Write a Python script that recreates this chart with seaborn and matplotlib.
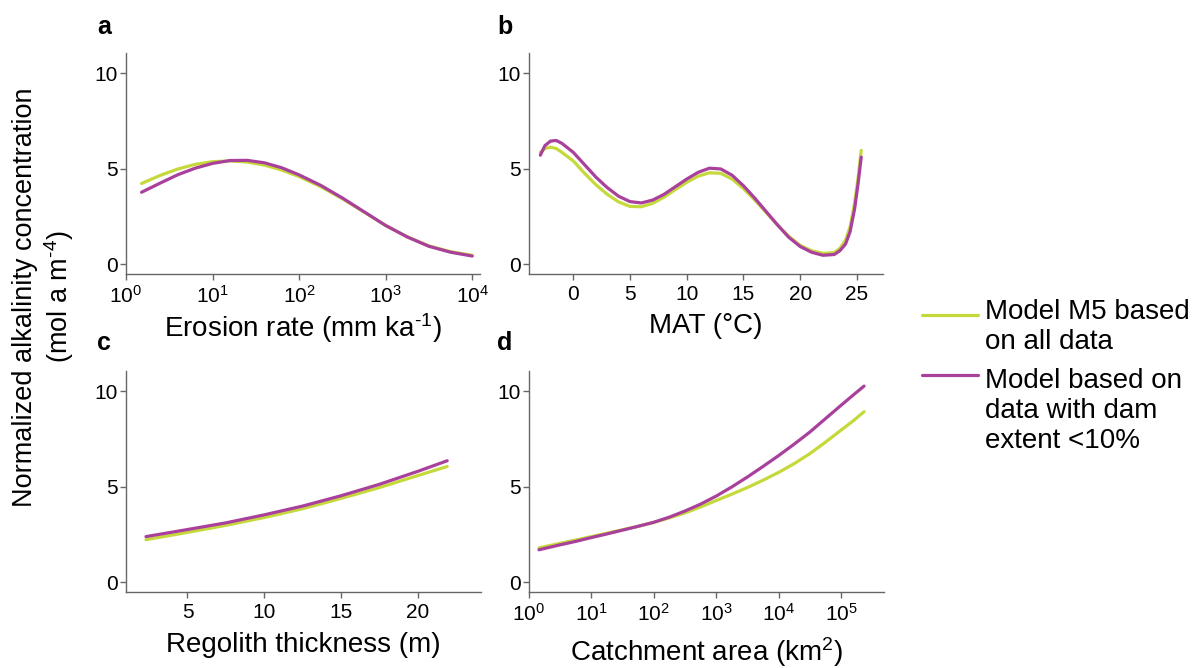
import numpy as np
import pandas as pd
import matplotlib
matplotlib.use("Agg")
import matplotlib.pyplot as plt
import seaborn as sns
from matplotlib.lines import Line2D

# ---------------- data ----------------
series_names = ["Model M5 based\non all data",
                "Model based on\ndata with dam\nextent <10%"]
colors = ["#c6d93b", "#a8409c"]

# panel a: erosion rate (log10 of mm/ka)
a_logx = [0.18, 0.4, 0.6, 0.8, 1.0, 1.2, 1.4, 1.6, 1.8, 2.0, 2.25, 2.5, 2.75,
          3.0, 3.25, 3.5, 3.75, 4.0]
a_all = [4.22, 4.65, 4.98, 5.22, 5.36, 5.40, 5.34, 5.18, 4.92, 4.58, 4.05, 3.42,
         2.72, 2.02, 1.42, 0.95, 0.65, 0.46]
a_dam = [3.76, 4.25, 4.68, 5.02, 5.27, 5.42, 5.43, 5.30, 5.04, 4.67, 4.12, 3.46,
         2.74, 2.02, 1.42, 0.93, 0.62, 0.42]

# panel b: MAT (°C)
b_x = [-2.9, -2.5, -2, -1.5, -1, 0, 1, 2, 3, 4, 5, 6, 7, 8, 9, 10, 11, 12, 13,
       14, 15, 16, 17, 18, 19, 20, 21, 22, 23, 23.5, 24, 24.4, 24.8, 25.1, 25.38]
b_all = [5.85, 6.05, 6.12, 6.05, 5.85, 5.40, 4.75, 4.15, 3.65, 3.25, 3.02, 3.00,
         3.18, 3.50, 3.90, 4.28, 4.60, 4.78, 4.75, 4.45, 3.95, 3.35, 2.70, 2.05,
         1.45, 0.98, 0.70, 0.56, 0.60, 0.82, 1.25, 1.95, 3.20, 4.50, 5.95]
b_dam = [5.70, 6.20, 6.44, 6.47, 6.32, 5.85, 5.20, 4.55, 4.00, 3.55, 3.27, 3.20,
         3.35, 3.65, 4.05, 4.45, 4.80, 5.02, 4.98, 4.65, 4.10, 3.45, 2.75, 2.05,
         1.40, 0.92, 0.62, 0.46, 0.50, 0.70, 1.05, 1.70, 2.90, 4.20, 5.60]

# panel c: regolith thickness (m)
c_x = [2.3, 5, 7.5, 10, 12.5, 15, 17.5, 20, 21.9]
c_all = [2.22, 2.60, 2.97, 3.38, 3.84, 4.38, 4.95, 5.58, 6.05]
c_dam = [2.38, 2.75, 3.10, 3.52, 3.98, 4.52, 5.12, 5.80, 6.35]

# panel d: catchment area (log10 of km2)
d_logx = [0.16, 0.5, 0.75, 1.0, 1.25, 1.5, 1.75, 2.0, 2.25, 2.5, 2.75, 3.0,
          3.25, 3.5, 3.75, 4.0, 4.25, 4.5, 4.75, 5.0, 5.2, 5.37]
d_all = [1.79, 2.03, 2.20, 2.38, 2.56, 2.74, 2.92, 3.12, 3.36, 3.62, 3.93, 4.27,
         4.60, 4.95, 5.33, 5.74, 6.20, 6.72, 7.32, 7.95, 8.45, 8.92]
d_dam = [1.69, 1.95, 2.13, 2.33, 2.52, 2.72, 2.92, 3.13, 3.40, 3.72, 4.08, 4.50,
         4.98, 5.50, 6.05, 6.62, 7.22, 7.85, 8.55, 9.25, 9.80, 10.26]

y_ticks = [0, 5, 10]
b_ticks = [0, 5, 10, 15, 20, 25]
c_ticks = [5, 10, 15, 20]
panel_letters = ["a", "b", "c", "d"]
x_labels = [r"Erosion rate (mm ka$^{\text{-}1}$)", "MAT (°C)",
            "Regolith thickness (m)", "Catchment area (km$^{2}$)"]
y_label = "Normalized alkalinity concentration\n" + r"(mol a m$^{\text{-}4}$)"

# ---------------- style ----------------
sns.set_theme(style="ticks")
plt.rcParams["font.family"] = ["Liberation Sans", "DejaVu Sans"]
plt.rcParams["mathtext.fontset"] = "custom"
plt.rcParams["mathtext.rm"] = "Liberation Sans"
plt.rcParams["mathtext.it"] = "Liberation Sans:italic"
plt.rcParams["mathtext.bf"] = "Liberation Sans:bold"
plt.rcParams["text.color"] = "black"
plt.rcParams["axes.labelcolor"] = "black"

def long_df(x, y1, y2):
    return pd.DataFrame({
        "x": list(x) + list(x),
        "y": list(y1) + list(y2),
        "model": [series_names[0]] * len(x) + [series_names[1]] * len(x),
    })

dfs = [
    long_df(10 ** np.array(a_logx), a_all, a_dam),
    long_df(b_x, b_all, b_dam),
    long_df(c_x, c_all, c_dam),
    long_df(10 ** np.array(d_logx), d_all, d_dam),
]

W, H = 1195, 668
fig = plt.figure(figsize=(W / 100, H / 100), dpi=100)

# axes boxes in pixels: left, top, right, bottom
boxes = [(126, 53, 480, 274), (529, 53, 883, 274),
         (126, 371, 481, 592), (529, 371, 884, 592)]
xlims = [(1, 10 ** 4.09), (-3.9, 27.3), (1.0, 24.1), (1, 10 ** 5.69)]
log_axes = [True, False, False, True]
letter_pos = [(97, 27), (497, 27), (97, 343), (497, 343)]
label_off = [37, 39, 40, 43]   # px from bottom spine to top of x label

spine_col = "#666666"
for i in range(4):
    l, t, r, b = boxes[i]
    ax = fig.add_axes([l / W, 1 - b / H, (r - l) / W, (b - t) / H])
    sns.lineplot(data=dfs[i], x="x", y="y", hue="model", palette=colors,
                 hue_order=series_names, linewidth=2.3, ax=ax, legend=False,
                 sort=False)
    if log_axes[i]:
        ax.set_xscale("log")
        ax.xaxis.set_major_locator(matplotlib.ticker.LogLocator(base=10, numticks=10))
        ax.xaxis.set_minor_locator(matplotlib.ticker.NullLocator())
    elif i == 1:
        ax.set_xticks(b_ticks)
    else:
        ax.set_xticks(c_ticks)
    ax.set_xlim(*xlims[i])
    ax.set_ylim(-0.52, 11.05)
    ax.set_yticks(y_ticks)
    ax.set_xlabel(x_labels[i], fontsize=20, color="black")
    ax.xaxis.set_label_coords(0.5, -label_off[i] / (b - t))
    ax.set_ylabel("")
    sns.despine(ax=ax)
    for s in ["left", "bottom"]:
        ax.spines[s].set_color(spine_col)
        ax.spines[s].set_linewidth(1.0)
    ax.tick_params(axis="both", labelsize=15, colors=spine_col, labelcolor="black",
                   length=4, width=1.0, direction="out")
    ax.tick_params(axis="y", pad=2)
    ax.tick_params(axis="x", pad=4)
    ax.set_facecolor("white")
    fig.text(letter_pos[i][0] / W, 1 - letter_pos[i][1] / H, panel_letters[i],
             fontsize=18, fontweight="bold", ha="left", va="center", color="black")

fig.text(44 / W, 1 - 297 / H, y_label, rotation=90, fontsize=19.5,
         ha="center", va="center", multialignment="center", linespacing=1.2,
         color="black")

# legend (swatch aligned with first text line, as in the reference)
legend_rows = [(315, 299), (375, 368)]  # (swatch y, text top y) in px
for k in range(2):
    ys, yt = legend_rows[k]
    fig.add_artist(Line2D([922 / W, 978 / W], [1 - ys / H, 1 - ys / H],
                          transform=fig.transFigure, color=colors[k], lw=2.3))
    fig.text(985 / W, 1 - yt / H, series_names[k], fontsize=20,
             ha="left", va="top", linespacing=1.2, color="black")

fig.savefig("out.png", dpi=100, facecolor="white")
